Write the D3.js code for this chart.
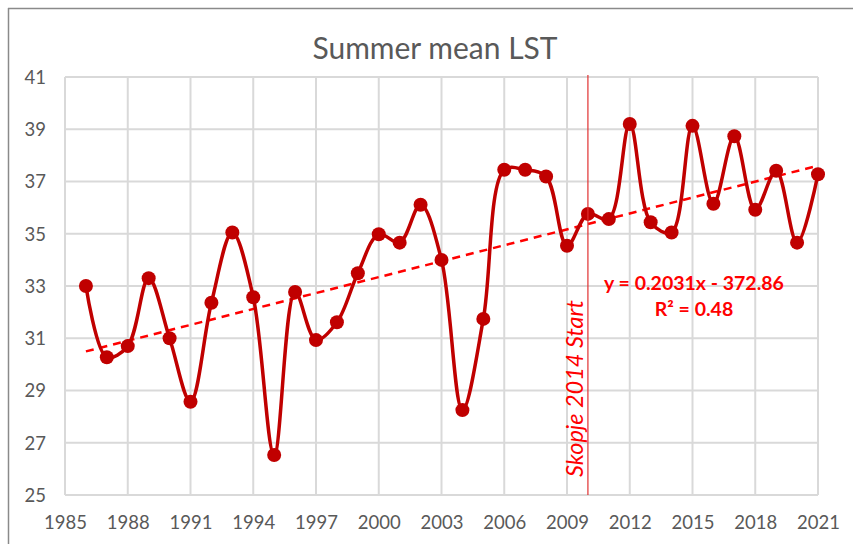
<!DOCTYPE html>
<html><head><meta charset="utf-8">
<script src="https://cdn.jsdelivr.net/npm/d3@7"></script>
<style>
html,body{margin:0;padding:0;background:#fff;}
svg{display:block;font-family:Lato,"Open Sans",sans-serif;}
</style></head>
<body>
<svg id="chart" width="853" height="544"></svg>
<script>
const years = [1986,1987,1988,1989,1990,1991,1992,1993,1994,1995,1996,1997,1998,1999,2000,2001,2002,2003,2004,2005,2006,2007,2008,2009,2010,2011,2012,2013,2014,2015,2016,2017,2018,2019,2020,2021];
const lst = [33.0,30.27,30.7,33.3,31.0,28.57,32.36,35.05,32.57,26.53,32.77,30.93,31.61,33.49,34.98,34.66,36.11,34.0,28.25,31.74,37.45,37.45,37.19,34.54,35.76,35.56,39.2,35.44,35.05,39.13,36.15,38.73,35.92,37.41,34.66,37.28];
const xTicks = [1985,1988,1991,1994,1997,2000,2003,2006,2009,2012,2015,2018,2021];
const yTicks = [25,27,29,31,33,35,37,39,41];
const trendSlope = 0.2031;
const trendIntercept = -372.86;
const markerYear = 2010;
const title = "Summer mean LST";
const markerLabel = "Skopje 2014 Start";
const eqLine1 = "y = 0.2031x - 372.86";
const eqLine2 = "R² = 0.48";

const svg = d3.select("#chart");
const x = d3.scaleLinear().domain([1985,2021]).range([65,818]);
const y = d3.scaleLinear().domain([25,41]).range([495,77]);

// outer frame (top and left)
svg.append("line").attr("x1",8).attr("x2",853).attr("y1",8.5).attr("y2",8.5).attr("stroke","#8a8a8a").attr("stroke-width",1.5);
svg.append("line").attr("x1",8.5).attr("x2",8.5).attr("y1",8).attr("y2",544).attr("stroke","#8a8a8a").attr("stroke-width",1.5);

// title
svg.append("text").attr("x",435).attr("y",59).attr("text-anchor","middle")
  .attr("font-size",30).attr("fill","#595959").text(title);

// gridlines
const grid = svg.append("g");
grid.selectAll("line.v").data(xTicks).join("line").attr("class","v")
  .attr("x1",d=>x(d)).attr("x2",d=>x(d)).attr("y1",y(41)).attr("y2",y(25))
  .attr("stroke","#d9d9d9").attr("stroke-width",2);
grid.selectAll("line.h").data(yTicks).join("line").attr("class","h")
  .attr("x1",x(1985)).attr("x2",x(2021)).attr("y1",d=>y(d)).attr("y2",d=>y(d))
  .attr("stroke","#d9d9d9").attr("stroke-width",2);

// axes (labels only)
const xAxis = d3.axisBottom(x).tickValues(xTicks).tickFormat(d3.format("d")).tickSize(0).tickPadding(0);
const gx = svg.append("g").attr("transform",`translate(0,${y(25)})`).call(xAxis);
gx.select(".domain").remove();
gx.selectAll("text").attr("font-size",18.5).attr("fill","#595959").attr("font-family","Lato").attr("dy",null).attr("y",34);

const yAxis = d3.axisLeft(y).tickValues(yTicks).tickSize(0).tickPadding(0);
const gy = svg.append("g").attr("transform",`translate(46,0)`).call(yAxis);
gy.select(".domain").remove();
gy.selectAll("text").attr("font-size",18.5).attr("fill","#595959").attr("font-family","Lato").attr("dy","0.35em").attr("x",0);

// trendline
svg.append("line")
  .attr("x1",x(years[0])).attr("y1",y(trendSlope*years[0]+trendIntercept))
  .attr("x2",x(years[years.length-1])).attr("y2",y(trendSlope*years[years.length-1]+trendIntercept))
  .attr("stroke","#ff0000").attr("stroke-width",2.5).attr("stroke-dasharray","8,6");

// series
const pts = years.map((yr,i)=>[yr,lst[i]]);
const line = d3.line().x(d=>x(d[0])).y(d=>y(d[1])).curve(d3.curveCatmullRom.alpha(0.5));
svg.append("path").datum(pts).attr("d",line).attr("fill","none").attr("stroke","#c00000").attr("stroke-width",3.5);
svg.selectAll("circle.pt").data(pts).join("circle").attr("class","pt")
  .attr("cx",d=>x(d[0])).attr("cy",d=>y(d[1])).attr("r",7).attr("fill","#c00000");

// vertical marker line
svg.append("line").attr("x1",x(markerYear)).attr("x2",x(markerYear)).attr("y1",y(41)-2).attr("y2",y(25))
  .attr("stroke","#e03030").attr("stroke-width",1.2);
svg.append("text").attr("transform",`translate(${x(markerYear)-5},${477}) rotate(-90)`)
  .attr("font-size",23.5).attr("font-style","italic").attr("fill","#ff0000").text(markerLabel);

// equation
svg.append("text").attr("x",694).attr("y",290).attr("text-anchor","middle")
  .attr("font-size",19.5).attr("font-weight","bold").attr("fill","#ff0000").text(eqLine1);
svg.append("text").attr("x",694).attr("y",316).attr("text-anchor","middle")
  .attr("font-size",19.5).attr("font-weight","bold").attr("fill","#ff0000").text(eqLine2);
</script>
</body></html>
